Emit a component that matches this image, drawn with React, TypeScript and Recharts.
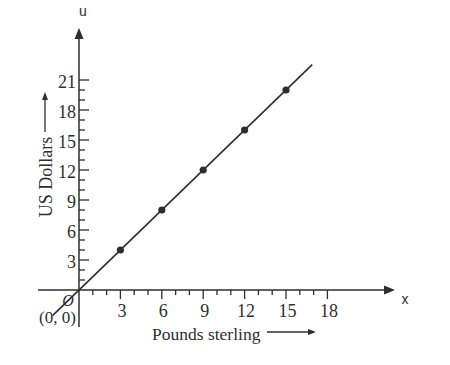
import React from "react";
import {
  ComposedChart,
  XAxis,
  YAxis,
  Line,
  Scatter,
  ReferenceLine,
  ReferenceDot,
} from "recharts";

// Data
const pounds = [3, 6, 9, 12, 15];
const dollars = [4, 8, 12, 16, 20];
const lineX = [-1.9, 16.9];
const lineU = [-2.53, 22.53];
const xTicks = [1, 2, 3, 4, 5, 6, 7, 8, 9, 10, 11, 12, 13, 14, 15, 16, 17, 18];
const yTicks = [1, 2, 3, 4, 5, 6, 7, 8, 9, 10, 11, 12, 13, 14, 15, 16, 17, 18, 19, 20, 21];
const xMajor = [3, 6, 9, 12, 15, 18];
const yMajor = [3, 6, 9, 12, 15, 18, 21];
const xAxisRange = [-2.97, 22.9];
const yAxisRange = [-3.7, 26.2];
const xDomain = [-5.725, 26.884];
const yDomain = [-7.5, 29.0];

const points = pounds.map((p, i) => ({ x: p, y: dollars[i] }));
const lineData = lineX.map((x, i) => ({ x, y: lineU[i] }));

const INK = "#2e2e2e";
const SERIF = "'Liberation Serif', 'Times New Roman', serif";
const SANS = "'Liberation Sans', Arial, sans-serif";

const XTick = (props: any) => {
  const { cx, cy, value } = props;
  const major = xMajor.includes(value);
  return (
    <g>
      <line x1={cx} y1={cy} x2={cx} y2={cy + (major ? 9 : 5)} stroke={INK} strokeWidth={1.3} />
      {major && (
        <text x={cx + 1.5} y={cy + 27} textAnchor="middle" fontFamily={SERIF} fontSize={18} fill={INK}>
          {value}
        </text>
      )}
    </g>
  );
};

const YTick = (props: any) => {
  const { cx, cy, value } = props;
  const major = yMajor.includes(value);
  return (
    <g>
      <line x1={cx} y1={cy} x2={cx + (major ? 10 : 6)} y2={cy} stroke={INK} strokeWidth={1.3} />
      {major && (
        <text x={cx - 3} y={cy + 7.5} textAnchor="end" fontFamily={SERIF} fontSize={18} fill={INK}>
          {value}
        </text>
      )}
    </g>
  );
};

const RightArrowHead = (props: any) => {
  const { cx, cy } = props;
  return (
    <g>
      <polygon points={`${cx},${cy} ${cx - 11},${cy - 4.5} ${cx - 11},${cy + 4.5}`} fill={INK} />
      <text x={cx + 10} y={cy + 14} textAnchor="middle" fontFamily={SANS} fontSize={14} fill={INK}>
        x
      </text>
    </g>
  );
};

const UpArrowHead = (props: any) => {
  const { cx, cy } = props;
  return (
    <g>
      <polygon points={`${cx},${cy} ${cx - 4.5},${cy + 11} ${cx + 4.5},${cy + 11}`} fill={INK} />
      <text x={cx + 4} y={cy - 12} textAnchor="middle" fontFamily={SANS} fontSize={14} fill={INK}>
        u
      </text>
    </g>
  );
};

const OriginLabel = (props: any) => {
  const { cx, cy } = props;
  return (
    <g>
      <text x={cx - 11} y={cy + 16} textAnchor="middle" fontFamily={SERIF} fontStyle="italic" fontSize={16} fill={INK}>
        O
      </text>
      <text x={cx - 40} y={cy + 33} textAnchor="start" fontFamily={SERIF} fontSize={17} fill={INK}>
        (0, 0)
      </text>
    </g>
  );
};

const Dot = (props: any) => {
  const { cx, cy } = props;
  return <circle cx={cx} cy={cy} r={3.6} fill={INK} />;
};

export default function App() {
  return (
    <div style={{ position: "absolute", left: 0, top: 0, background: "#fff" }}>
      <ComposedChart
        width={450}
        height={365}
        data={lineData}
        margin={{ top: 0, right: 0, bottom: 0, left: 0 }}
      >
        <XAxis type="number" dataKey="x" domain={xDomain} hide allowDataOverflow />
        <YAxis type="number" dataKey="y" domain={yDomain} hide allowDataOverflow />
        <ReferenceLine
          segment={[{ x: xAxisRange[0], y: 0 }, { x: xAxisRange[1] - 0.5, y: 0 }]}
          stroke={INK}
          strokeWidth={1.5}
        />
        <ReferenceLine
          segment={[{ x: 0, y: yAxisRange[0] }, { x: 0, y: yAxisRange[1] - 0.5 }]}
          stroke={INK}
          strokeWidth={1.5}
        />
        <ReferenceDot x={xAxisRange[1]} y={0} shape={RightArrowHead} />
        <ReferenceDot x={0} y={yAxisRange[1]} shape={UpArrowHead} />
        {xTicks.map((t) => (
          <ReferenceDot key={`xt${t}`} x={t} y={0} shape={(p: any) => <XTick {...p} value={t} />} />
        ))}
        {yTicks.map((t) => (
          <ReferenceDot key={`yt${t}`} x={0} y={t} shape={(p: any) => <YTick {...p} value={t} />} />
        ))}
        <ReferenceDot x={0} y={0} shape={OriginLabel} />
        <Line
          type="linear"
          dataKey="y"
          data={lineData}
          stroke={INK}
          strokeWidth={1.6}
          dot={false}
          activeDot={false}
          isAnimationActive={false}
        />
        <Scatter data={points} dataKey="y" shape={Dot} isAnimationActive={false} />
        <g>
          <text
            x={51.5}
            y={177}
            transform="rotate(-90, 51.5, 177)"
            textAnchor="middle"
            fontFamily={SERIF}
            fontSize={18}
            fill={INK}
          >
            US Dollars
          </text>
          <line x1={45} y1={132} x2={45} y2={99} stroke={INK} strokeWidth={1.3} />
          <polygon points="45,92 42,100 48,100" fill={INK} />
          <text x={152} y={340} textAnchor="start" fontFamily={SERIF} fontSize={17.5} fill={INK}>
            Pounds sterling
          </text>
          <line x1={267} y1={332} x2={309} y2={332} stroke={INK} strokeWidth={1.3} />
          <polygon points="316,332 308,329 308,335" fill={INK} />
        </g>
      </ComposedChart>
    </div>
  );
}
